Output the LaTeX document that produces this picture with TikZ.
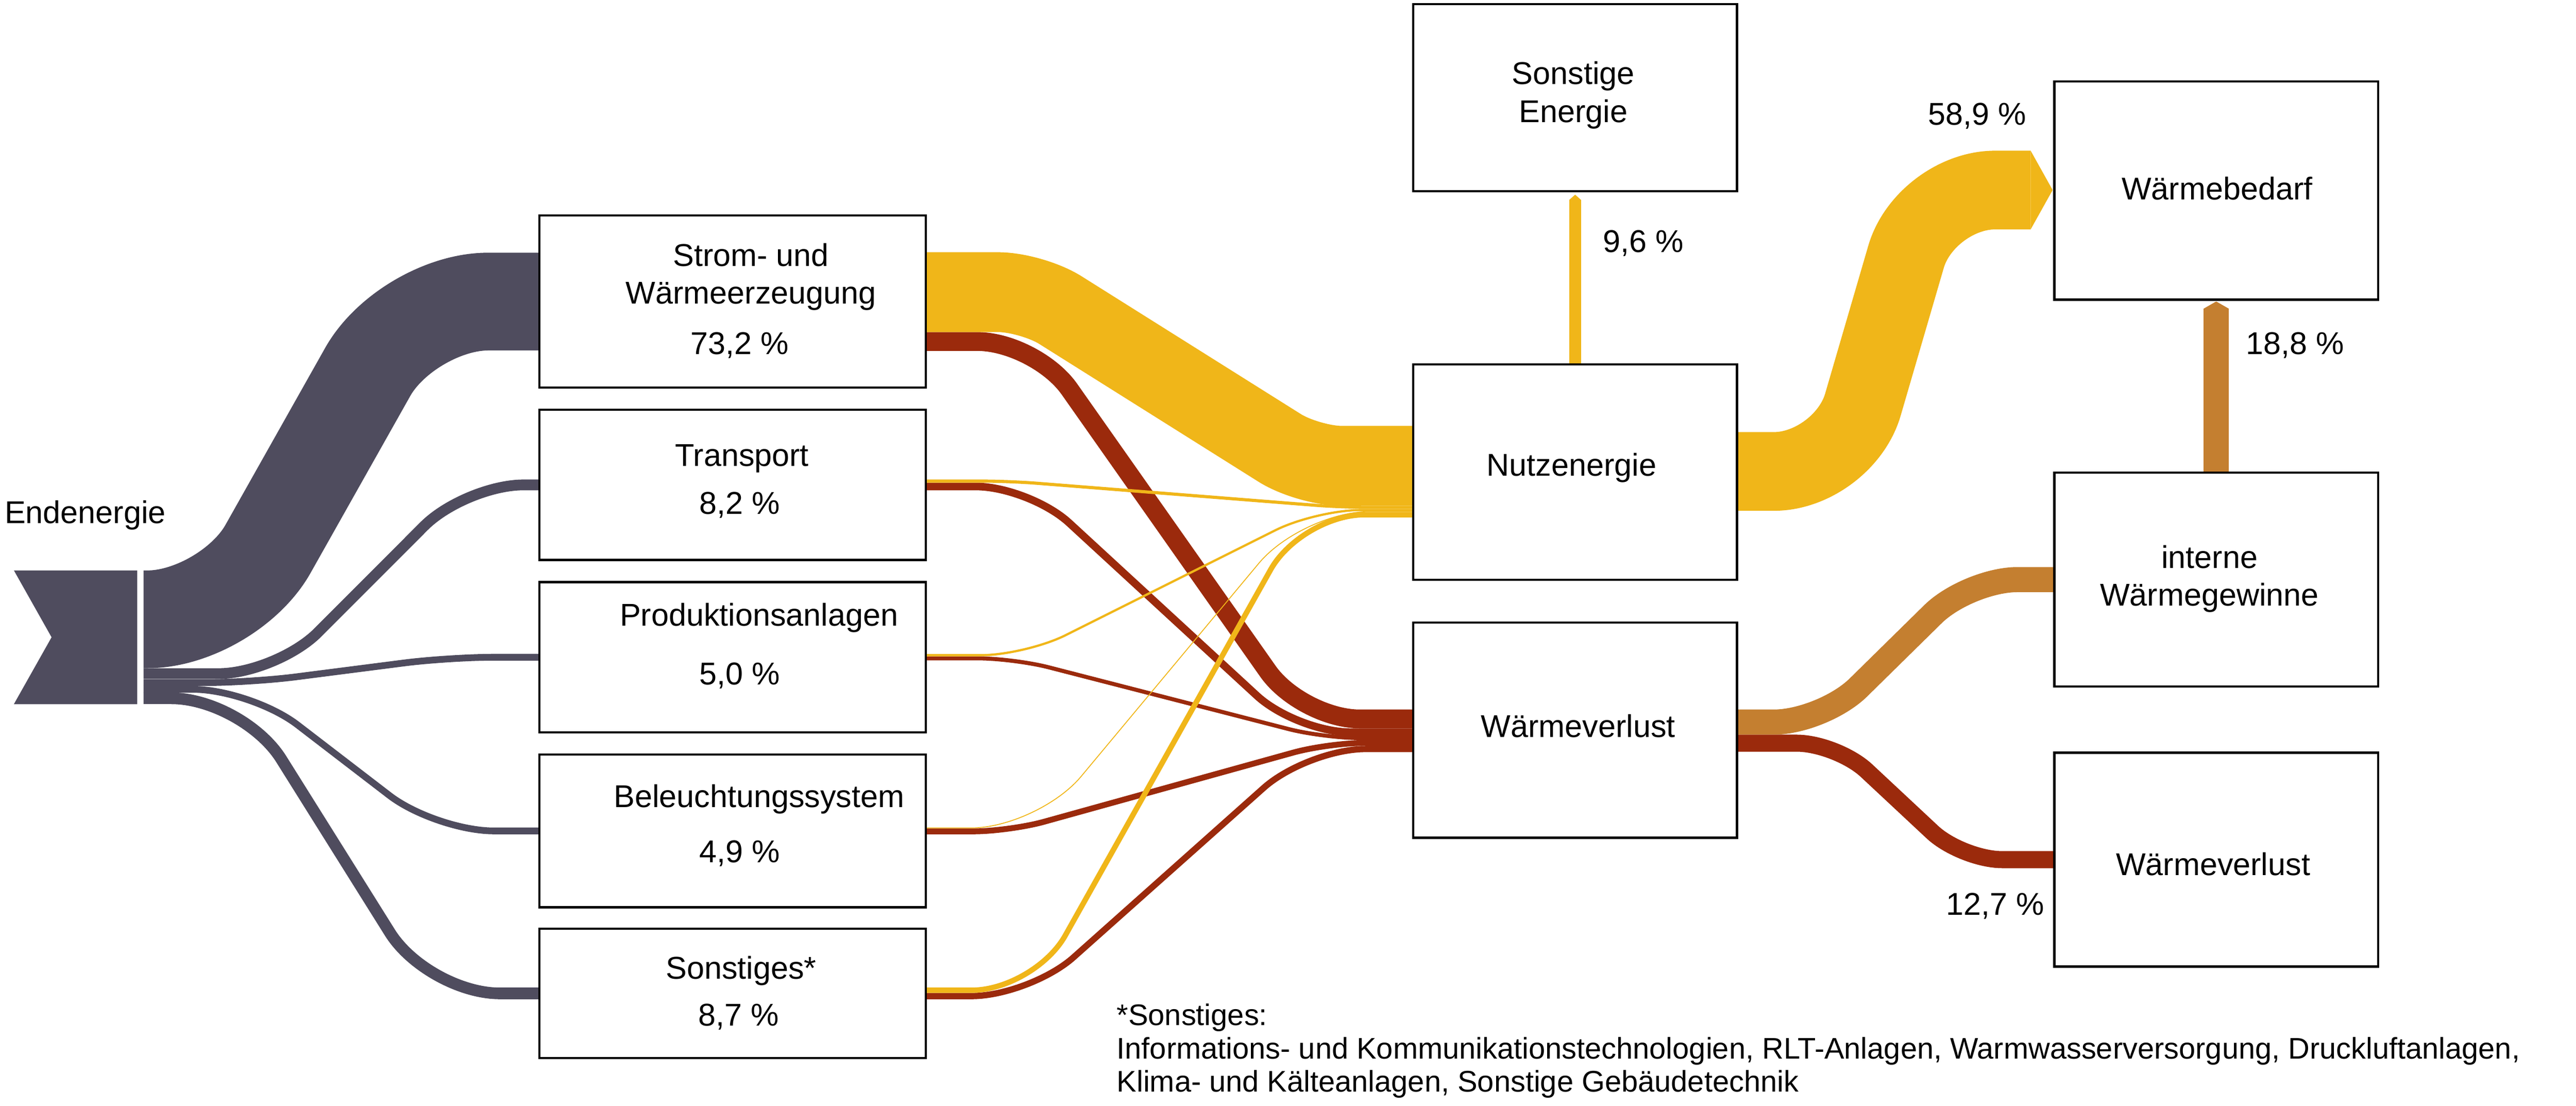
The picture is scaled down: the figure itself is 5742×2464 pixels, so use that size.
\documentclass[tikz,border=0pt]{standalone}
\usepackage{fontspec}
\setmainfont{Liberation Sans}
\usetikzlibrary{arrows.meta,backgrounds,calc}

\definecolor{grau}{HTML}{4F4C5E}
\definecolor{gelb}{HTML}{F0B619}
\definecolor{rot}{HTML}{9B2A0C}
\definecolor{braun}{HTML}{C47F30}

\tikzset{
  flow/.style={line width=#1*0.05mm},
  kasten/.style={draw,line width=.7pt,outer sep=0pt,inner sep=0pt},
}

\begin{document}
\begin{tikzpicture}[x=0.005cm,y=-0.005cm]
  \useasboundingbox (0,0) rectangle (5742,2464);

  \begin{scope}[every node/.style={kasten,minimum width=4.31cm}]
    \node[minimum height=1.92cm]  (strom)  at (1633,672)    {};
    \node[minimum height=1.675cm] (trans)  at (1633,1080.5) {};
    \node[minimum height=1.675cm] (prod)   at (1633,1464.5) {};
    \node[minimum height=1.705cm] (licht)  at (1633,1851.5) {};
    \node[minimum height=1.445cm] (sonst)  at (1633,2213.5) {};
  \end{scope}

  \begin{scope}[every node/.style={kasten,minimum width=3.61cm}]
    \node[minimum height=2.085cm] (sonstE)   at (3511,217.5)  {};
    \node[minimum height=2.4cm]   (nutz)     at (3511,1052)   {};
    \node[minimum height=2.4cm]   (verlust)  at (3511,1627)   {};
    \node[minimum height=2.435cm] (bedarf)   at (4940,424.5)  {};
    \node[minimum height=2.385cm] (intern)   at (4940,1291.5) {};
    \node[minimum height=2.385cm] (verlust2) at (4940,1915.5) {};
  \end{scope}

  \begin{scope}[every node/.style={align=center,inner sep=0pt}]
    \node (endtxt)    at (190,1148)  {Endenergie};
    \node (stromtxt)  at (1674,617)  {Strom- und\\Wärmeerzeugung};
    \node (strompz)   at (1649,770)  {73,2 \%};
    \node (transtxt)  at (1654,1022) {Transport};
    \node (transpz)   at (1649,1125) {8,2 \%};
    \node (prodtxt)   at (1692,1377) {Produktionsanlagen};
    \node (prodpz)    at (1649,1506) {5,0 \%};
    \node (lichttxt)  at (1692,1781) {Beleuchtungssystem};
    \node (lichtpz)   at (1649,1902) {4,9 \%};
    \node (sonsttxt)  at (1652,2163) {Sonstiges*};
    \node (sonstpz)   at (1647,2266) {8,7 \%};
    \node (sonstEtxt) at (3507,212)  {Sonstige\\Energie};
    \node (nutztxt)   at (3503,1042) {Nutzenergie};
    \node (verltxt)   at (3518,1618) {Wärmeverlust};
    \node (bedtxt)    at (4942,420)  {Wärmebedarf};
    \node (inttxt)    at (4925,1290) {interne\\Wärmegewinne};
    \node (verl2txt)  at (4933,1925) {Wärmeverlust};
    \node (pzsonstE)  at (3663,542)  {9,6 \%};
    \node (pzbedarf)  at (4407,259)  {58,9 \%};
    \node (pzintern)  at (5116,770)  {18,8 \%};
    \node (pzverl2)   at (4447,2019) {12,7 \%};
  \end{scope}

  \node[anchor=north west,align=left,inner sep=0pt,font=\fontsize{9.45}{10.6}\selectfont] (fussnote) at (2488,2235)
    {*Sonstiges:\\Informations- und Kommunikationstechnologien, RLT-Anlagen, Warmwasserversorgung, Druckluftanlagen,\\Klima- und Kälteanlagen, Sonstige Gebäudetechnik};

  \coordinate (q1) at (320,1380);
  \coordinate (q2) at (320,1501);
  \coordinate (q3) at (320,1521);
  \coordinate (q4) at (320,1536);
  \coordinate (q5) at (320,1556);

  \begin{scope}[on background layer]
    \fill[grau] (31,1271) -- (306,1271) -- (306,1569) -- (31,1569) -- (115,1420) -- cycle;

    \begin{scope}[grau]
      \draw[flow=218,rounded corners=9mm]  (q1) -- (509,1380)  -- (908,672)     -- (strom.west);
      \draw[flow=24,rounded corners=6.5mm] (q2) -- (617,1501)  -- (1037,1080.5) -- (trans.west);
      \draw[flow=15,rounded corners=5mm]   (q3) -- (560,1521)  -- (1000,1464.5) -- (prod.west);
      \draw[flow=15,rounded corners=6.5mm] (q4) -- (560,1536)  -- (971,1851.5)  -- (licht.west);
      \draw[flow=26,rounded corners=8mm]   (q5) -- (542,1556)  -- (954,2213.5)  -- (sonst.west);
    \end{scope}

    \begin{scope}[rot]
      \draw[flow=42,rounded corners=6.5mm] ($(strom.east)+(0,89)$)  -- (2309,761)    -- (2901,1602)   -- ($(verlust.west)+(0,-25)$);
      \draw[flow=17,rounded corners=6mm]   ($(trans.east)+(0,3.5)$) -- (2295,1084)   -- (2890,1631.5) -- ($(verlust.west)+(0,4.5)$);
      \draw[flow=9,rounded corners=4mm]    ($(prod.east)+(0,2.5)$)  -- (2260,1467)   -- (2950,1644.5) -- ($(verlust.west)+(0,17.5)$);
      \draw[flow=13,rounded corners=4mm]   ($(licht.east)+(0,1)$)   -- (2250,1852.5) -- (2960,1655.5) -- ($(verlust.west)+(0,28.5)$);
      \draw[flow=14,rounded corners=6.5mm] ($(sonst.east)+(0,6)$)   -- (2296,2219.5) -- (2914,1669)   -- ($(verlust.west)+(0,42)$);
      \draw[flow=38,rounded corners=4.5mm] ($(verlust.east)+(0,29)$) -- (4095,1656)  -- (4373,1915.5) -- (verlust2.west);
    \end{scope}

    \begin{scope}[gelb]
      \draw[flow=178,rounded corners=3.75mm] ($(strom.east)+(0,-21)$)  -- (2300,651)    -- (2916,1038)   -- ($(nutz.west)+(0,-14)$);
      \draw[flow=7,rounded corners=3mm]      ($(trans.east)+(0,-8.5)$) -- (2250,1072)   -- (2990,1130.5) -- ($(nutz.west)+(0,78.5)$);
      \draw[flow=5,rounded corners=5mm]      ($(prod.east)+(0,-4.5)$)  -- (2286,1460)   -- (2933,1136.5) -- ($(nutz.west)+(0,84.5)$);
      \draw[flow=2,rounded corners=7.5mm]    ($(licht.east)+(0,-6.5)$) -- (2314,1845)   -- (2902,1140)   -- ($(nutz.west)+(0,88)$);
      \draw[flow=12,rounded corners=7mm]     ($(sonst.east)+(0,-7)$)   -- (2306,2206.5) -- (2901,1147)   -- ($(nutz.west)+(0,95)$);
      \draw[flow=175.5,rounded corners=7.75mm,-{Triangle[length=2.45mm,width=8.775mm,line width=0pt]}]
        ($(nutz.east)+(0,-1.5)$) -- (4109,1050.5) -- (4292,423.5) -- ($(bedarf.west)+(-4,-1)$);
      \draw[flow=27,-{Triangle[length=.6mm,width=1.35mm,line width=0pt]}] (nutz.north) -- ($(sonstE.south)+(0,8)$);
    \end{scope}

    \begin{scope}[braun]
      \draw[flow=56,rounded corners=5.5mm] ($(verlust.east)+(0,-18)$) -- (4064,1609) -- (4387,1291.5) -- (intern.west);
      \draw[flow=56,-{Triangle[length=.8mm,width=2.8mm,line width=0pt]}] (intern.north) -- ($(bedarf.south)+(0,4)$);
    \end{scope}
  \end{scope}

\end{tikzpicture}
\end{document}
